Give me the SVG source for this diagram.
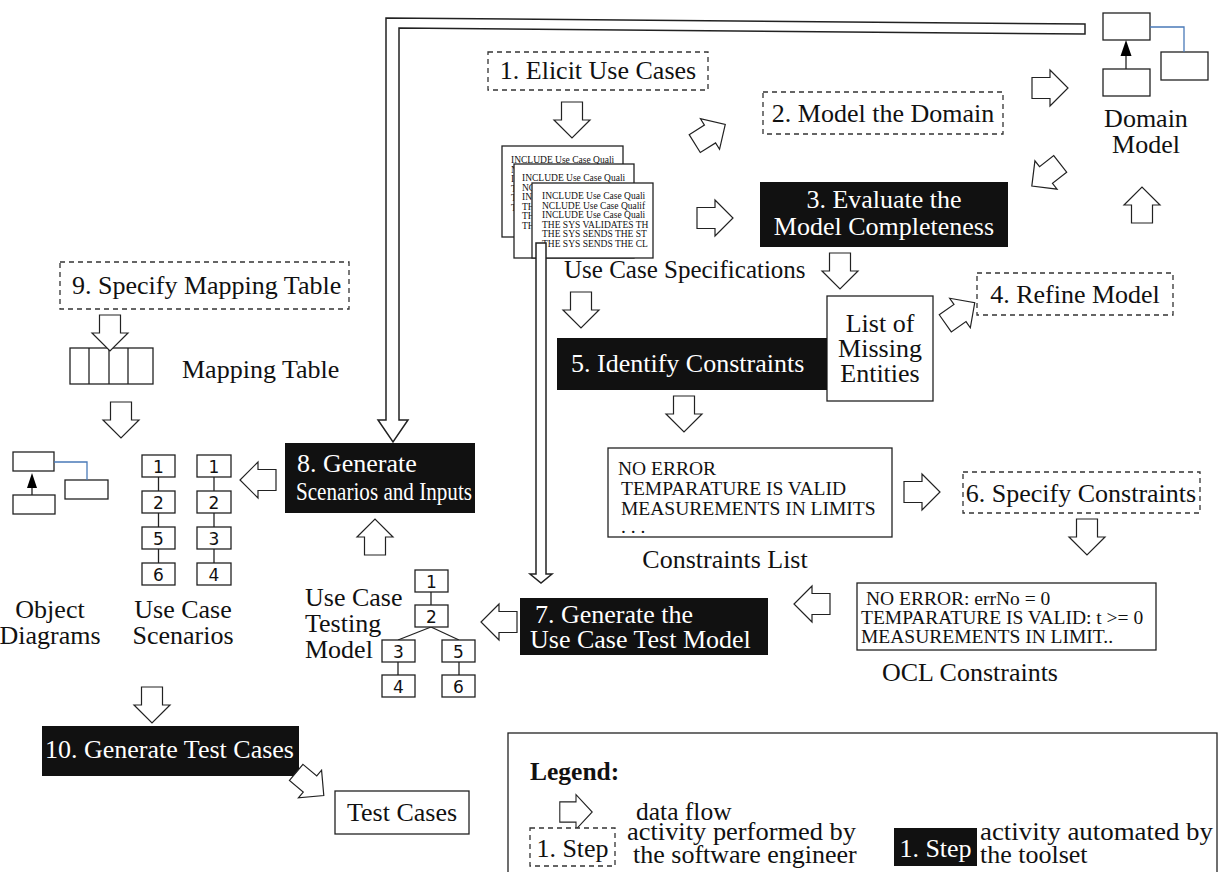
<svg xmlns="http://www.w3.org/2000/svg" width="1220" height="872" viewBox="0 0 1220 872">
<defs>
<style>
.t{font-family:"Liberation Serif","Times New Roman",serif;font-size:26px;fill:#111}
.s{font-family:"DejaVu Sans","Liberation Sans",sans-serif;font-size:17px;fill:#111}
.d{font-family:"Liberation Serif","Times New Roman",serif;font-size:9.5px;fill:#111}
.c{font-family:"Liberation Serif","Times New Roman",serif;font-size:19.5px;fill:#111}
.lg{font-family:"Liberation Serif","Times New Roman",serif;font-size:26px;fill:#111}
.w{fill:#fff}
.dash{fill:#fff;stroke:#333;stroke-width:1.3;stroke-dasharray:5 4}
.blk{fill:#111}
.box{fill:#fff;stroke:#222;stroke-width:1.3}
.arr{fill:#fff;stroke:#222;stroke-width:1.2}
.ln{stroke:#222;stroke-width:1.3;fill:none}
.bl{stroke:#4a7ab8;stroke-width:1.3;fill:none}
.dbl{fill:#fff;stroke:#222;stroke-width:1.5}
</style>
<path id="ba" d="M-18,-10.5 H0 V-18 L18,0 L0,18 V10.5 H-18 Z"/>
<clipPath id="c1"><rect x="502" y="146" width="121" height="91"/></clipPath>
<clipPath id="c2"><rect x="514" y="164" width="120" height="94"/></clipPath>
<clipPath id="c3"><rect x="532" y="183" width="121" height="75"/></clipPath>
</defs>
<rect width="1220" height="872" fill="#fff"/>

<g id="n1"><rect class="dash" x="488" y="52" width="220" height="38"/><text class="t" x="598" y="79" text-anchor="middle">1. Elicit Use Cases</text></g>

<g id="ucspec">
<rect class="box" x="502" y="146" width="121" height="91"/>
<g class="d" clip-path="url(#c1)"><text x="511" y="163">INCLUDE Use Case Quali</text><text x="511" y="172.5">NCLUDE Use Case Qualif</text><text x="511" y="182">INCLUDE Use Case Quali</text><text x="511" y="191.5">THE SYS VALIDATES TH</text><text x="511" y="201">THE SYS SENDS THE ST</text><text x="511" y="210.5">THE SYS SENDS THE CL</text></g>
<rect class="box" x="514" y="164" width="120" height="94"/>
<g class="d" clip-path="url(#c2)"><text x="522" y="181">INCLUDE Use Case Quali</text><text x="522" y="190.5">NCLUDE Use Case Qualif</text><text x="522" y="200">INCLUDE Use Case Quali</text><text x="522" y="209.5">THE SYS VALIDATES TH</text><text x="522" y="219">THE SYS SENDS THE ST</text><text x="522" y="228.5">THE SYS SENDS THE CL</text></g>
<rect class="box" x="532" y="183" width="121" height="75"/>
<g class="d" clip-path="url(#c3)"><text x="542" y="199">INCLUDE Use Case Quali</text><text x="542" y="208.5">NCLUDE Use Case Qualif</text><text x="542" y="218">INCLUDE Use Case Quali</text><text x="542" y="227.5">THE SYS VALIDATES TH</text><text x="542" y="237">THE SYS SENDS THE ST</text><text x="542" y="246.5">THE SYS SENDS THE CL</text></g>
<text class="t" x="564" y="278" style="font-size:25px">Use Case Specifications</text>
</g>

<g id="n2"><rect class="dash" x="763" y="92" width="240" height="42"/><text class="t" x="883" y="122" text-anchor="middle">2. Model the Domain</text></g>

<g id="domain">
<rect class="box" x="1103" y="13" width="47" height="27"/>
<rect class="box" x="1103" y="69" width="47" height="27"/>
<rect class="box" x="1161" y="52" width="47" height="28"/>
<polyline class="bl" points="1150,27 1184,27 1184,52"/>
<line class="ln" x1="1126" y1="69" x2="1126" y2="54"/>
<polygon points="1126,40 1131.5,56 1120.5,56" fill="#000"/>
<text class="t" x="1146" y="127" text-anchor="middle">Domain</text>
<text class="t" x="1146" y="153" text-anchor="middle">Model</text>
</g>

<g id="n3"><rect class="blk" x="760" y="182" width="248" height="65"/><text class="t w" x="884" y="208" text-anchor="middle">3. Evaluate the</text><text class="t w" x="884" y="235" text-anchor="middle">Model Completeness</text></g>

<g id="n4"><rect class="dash" x="977" y="273" width="196" height="42"/><text class="t" x="1075" y="303" text-anchor="middle">4. Refine Model</text></g>

<g id="missing"><rect class="box" x="827" y="296" width="106" height="105"/><text class="t" x="880" y="332" text-anchor="middle">List of</text><text class="t" x="880" y="357" text-anchor="middle">Missing</text><text class="t" x="880" y="382" text-anchor="middle">Entities</text></g>

<g id="n5"><rect class="blk" x="557" y="338" width="270" height="52"/><text class="t w" x="571" y="372">5. Identify Constraints</text></g>

<g id="clist"><rect class="box" x="608" y="448" width="284" height="89"/>
<text class="c" x="618" y="475"> NO ERROR</text><text class="c" x="621" y="495">TEMPARATURE IS VALID</text><text class="c" x="621" y="515">MEASUREMENTS  IN LIMITS</text><text class="c" x="621" y="533">. . .</text>
<text class="t" x="725" y="568" text-anchor="middle">Constraints List</text></g>

<g id="n6"><rect class="dash" x="963" y="472" width="237" height="41"/><text class="t" x="1081" y="502" text-anchor="middle">6. Specify Constraints</text></g>

<g id="ocl"><rect class="box" x="857" y="583" width="299" height="67"/>
<text class="c" x="866" y="605"> NO ERROR: errNo = 0</text><text class="c" x="861" y="624">TEMPARATURE IS VALID: t &gt;= 0</text><text class="c" x="861" y="643">MEASUREMENTS  IN LIMIT..</text>
<text class="t" x="970" y="681" text-anchor="middle">OCL Constraints</text></g>

<g id="n7"><rect class="blk" x="520" y="598" width="248" height="57"/><text class="t w" x="535" y="623">7. Generate the</text><text class="t w" x="530" y="648">Use Case Test Model</text></g>

<g id="testmodel">
<g class="ln"><line x1="431" y1="592" x2="431" y2="605"/><line x1="431" y1="627" x2="398" y2="640"/><line x1="431" y1="627" x2="459" y2="640"/><line x1="398" y1="662" x2="398" y2="675"/><line x1="459" y1="662" x2="459" y2="675"/></g>
<rect class="box" x="415" y="570" width="33" height="22"/><rect class="box" x="415" y="605" width="33" height="22"/>
<rect class="box" x="382" y="640" width="33" height="22"/><rect class="box" x="442" y="640" width="33" height="22"/>
<rect class="box" x="382" y="675" width="33" height="22"/><rect class="box" x="442" y="675" width="33" height="22"/>
<g class="s" text-anchor="middle"><text x="431.5" y="588">1</text><text x="431.5" y="623">2</text><text x="398.5" y="658">3</text><text x="458.5" y="658">5</text><text x="398.5" y="693">4</text><text x="458.5" y="693">6</text></g>
<text class="t" x="305" y="606">Use Case</text><text class="t" x="305" y="632">Testing</text><text class="t" x="305" y="658">Model</text>
</g>

<g id="n8"><rect class="blk" x="285" y="443" width="190" height="70"/><text class="t w" x="297" y="472">8. Generate</text><text class="t w" x="296" y="500" textLength="176" lengthAdjust="spacingAndGlyphs">Scenarios and Inputs</text></g>

<g id="scenarios">
<g class="ln"><line x1="158.5" y1="477" x2="158.5" y2="491"/><line x1="158.5" y1="513" x2="158.5" y2="527"/><line x1="158.5" y1="549" x2="158.5" y2="563"/><line x1="214" y1="477" x2="214" y2="491"/><line x1="214" y1="513" x2="214" y2="527"/><line x1="214" y1="549" x2="214" y2="563"/></g>
<rect class="box" x="142" y="455" width="33" height="22"/><rect class="box" x="142" y="491" width="33" height="22"/><rect class="box" x="142" y="527" width="33" height="22"/><rect class="box" x="142" y="563" width="33" height="22"/>
<rect class="box" x="197" y="455" width="34" height="22"/><rect class="box" x="197" y="491" width="34" height="22"/><rect class="box" x="197" y="527" width="34" height="22"/><rect class="box" x="197" y="563" width="34" height="22"/>
<g class="s" text-anchor="middle"><text x="158.5" y="473">1</text><text x="158.5" y="509">2</text><text x="158.5" y="545">5</text><text x="158.5" y="581">6</text><text x="214" y="473">1</text><text x="214" y="509">2</text><text x="214" y="545">3</text><text x="214" y="581">4</text></g>
<text class="t" x="183" y="618" text-anchor="middle">Use Case</text><text class="t" x="183" y="644" text-anchor="middle">Scenarios</text>
</g>

<g id="objdiag">
<rect class="box" x="13" y="452" width="41" height="19"/>
<rect class="box" x="65" y="480" width="43" height="19"/>
<rect class="box" x="13" y="495" width="42" height="19"/>
<polyline class="bl" points="54,462 87,462 87,480"/>
<line class="ln" x1="32" y1="495" x2="32" y2="485"/>
<polygon points="32,473 37,488 27,488" fill="#000"/>
<text class="t" x="50" y="618" text-anchor="middle">Object</text><text class="t" x="50" y="644" text-anchor="middle">Diagrams</text>
</g>

<g id="n9"><rect class="dash" x="60" y="262" width="289" height="47"/><text class="t" x="72" y="294">9. Specify Mapping Table</text></g>

<g id="mapping"><rect class="box" x="70" y="348" width="83" height="36"/><g class="ln"><line x1="89" y1="348" x2="89" y2="384"/><line x1="109" y1="348" x2="109" y2="384"/><line x1="128" y1="348" x2="128" y2="384"/></g>
<text class="t" x="182" y="378">Mapping Table</text></g>

<g id="n10"><rect class="blk" x="42" y="726" width="257" height="50"/><text class="t w" x="45" y="758">10. Generate Test Cases</text></g>

<g id="testcases"><rect class="box" x="335" y="791" width="134" height="43"/><text class="t" x="402" y="821" text-anchor="middle">Test Cases</text></g>

<g id="legend">
<rect class="box" x="508" y="733" width="709" height="145"/>
<text class="lg" x="530" y="780" style="font-weight:bold;font-size:25.5px">Legend:</text>
<use href="#ba" class="arr" transform="translate(576,812) scale(0.9,0.97)"/>
<text class="lg" x="636" y="820" style="font-size:25.5px">data flow</text>
<rect class="dash" x="530" y="828" width="85" height="38"/>
<text class="lg" x="572.5" y="857" text-anchor="middle">1. Step</text>
<text class="lg" x="627" y="840" textLength="229" lengthAdjust="spacingAndGlyphs">activity performed by</text>
<text class="lg" x="633" y="863">the software engineer</text>
<rect class="blk" x="894" y="828" width="83" height="38"/>
<text class="lg w" x="935.5" y="857" text-anchor="middle">1. Step</text>
<text class="lg" x="980" y="840" textLength="233" lengthAdjust="spacingAndGlyphs">activity automated by</text>
<text class="lg" x="980" y="863">the toolset</text>
</g>

<g id="connectors">
<polygon class="dbl" points="386,18 1085,24 1085,34 399,28 399,420 408,420 393,442 378,420 386,420"/>
<polygon class="dbl" points="536,243 546,243 546,574 552,574 541,583 530,574 536,574"/>
<g class="arr">
<use href="#ba" transform="translate(572,120) rotate(90)"/>
<use href="#ba" transform="translate(710,134) rotate(-32)"/>
<use href="#ba" transform="translate(715,218)"/>
<use href="#ba" transform="translate(1050,88)"/>
<use href="#ba" transform="translate(1046,175) rotate(142)"/>
<use href="#ba" transform="translate(1142,205) rotate(-90)"/>
<use href="#ba" transform="translate(840,271) rotate(90)"/>
<use href="#ba" transform="translate(960,313) rotate(-35)"/>
<use href="#ba" transform="translate(581,310) rotate(90)"/>
<use href="#ba" transform="translate(684,414) rotate(90)"/>
<use href="#ba" transform="translate(922,492)"/>
<use href="#ba" transform="translate(1087,537) rotate(90)"/>
<use href="#ba" transform="translate(812,604) rotate(180)"/>
<use href="#ba" transform="translate(499,622) rotate(180)"/>
<use href="#ba" transform="translate(375,537) rotate(-90)"/>
<use href="#ba" transform="translate(258,480) rotate(180)"/>
<use href="#ba" transform="translate(110,333) rotate(90)"/>
<use href="#ba" transform="translate(121,420) rotate(90)"/>
<use href="#ba" transform="translate(152,705) rotate(90)"/>
<use href="#ba" transform="translate(310,784) rotate(40)"/>
</g>
</g>
</svg>
